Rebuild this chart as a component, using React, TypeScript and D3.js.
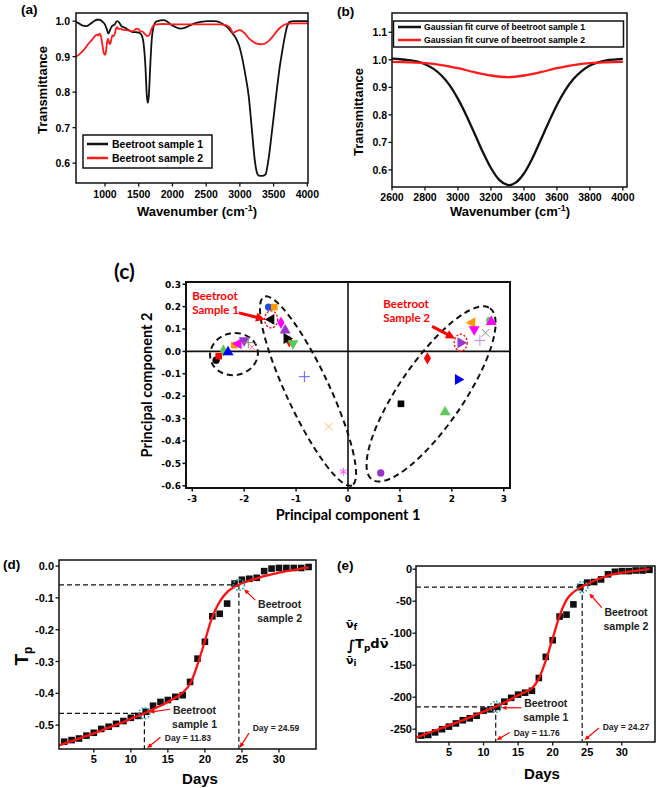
import React from 'react';
import * as d3 from 'd3';

type P = [number, number];

// ---------------- Panel (a): FTIR spectra ----------------
const ftirSample1: P[] = [
  [570, 0.998], [620, 0.993], [660, 0.988], [720, 0.986], [780, 0.992], [830, 0.999], [880, 1.004], [920, 1.004],
  [960, 0.999], [1000, 0.99], [1030, 0.975], [1050, 0.965], [1075, 0.975], [1100, 0.985], [1140, 0.99], [1180, 1.0],
  [1210, 0.996], [1250, 0.985], [1290, 0.982], [1340, 0.976], [1400, 0.97], [1450, 0.969], [1500, 0.968], [1540, 0.962],
  [1570, 0.94], [1600, 0.87], [1620, 0.79], [1635, 0.77], [1650, 0.79], [1670, 0.87], [1690, 0.94], [1720, 0.985],
  [1760, 0.999], [1820, 1.002], [1870, 1.003], [1920, 0.999], [1980, 0.99], [2050, 0.983], [2120, 0.979], [2180, 0.981],
  [2250, 0.987], [2330, 0.994], [2420, 0.998], [2520, 1.0], [2620, 1.0], [2700, 0.997], [2760, 0.99], [2820, 0.982],
  [2880, 0.968], [2940, 0.952], [2990, 0.93], [3030, 0.9], [3080, 0.85], [3130, 0.79], [3180, 0.69], [3220, 0.61],
  [3250, 0.575], [3280, 0.565], [3340, 0.564], [3380, 0.568], [3420, 0.605], [3470, 0.68], [3510, 0.745], [3550, 0.81],
  [3590, 0.87], [3630, 0.918], [3670, 0.96], [3700, 0.985], [3740, 0.998], [3800, 1.0], [3900, 1.0], [4010, 1.0],
];
const ftirSample2: P[] = [
  [570, 0.9], [610, 0.905], [650, 0.912], [690, 0.92], [730, 0.93], [770, 0.94], [810, 0.948], [850, 0.958],
  [880, 0.962], [900, 0.96], [920, 0.965], [940, 0.958], [960, 0.935], [980, 0.912], [1000, 0.905], [1015, 0.915],
  [1030, 0.94], [1045, 0.95], [1060, 0.94], [1075, 0.935], [1090, 0.945], [1110, 0.96], [1130, 0.958], [1150, 0.968],
  [1165, 0.98], [1180, 0.983], [1200, 0.978], [1230, 0.979], [1260, 0.976], [1300, 0.975], [1340, 0.974], [1380, 0.972],
  [1420, 0.972], [1460, 0.978], [1490, 0.978], [1520, 0.972], [1560, 0.97], [1600, 0.962], [1630, 0.958], [1660, 0.962],
  [1690, 0.978], [1720, 0.988], [1760, 0.991], [1850, 0.992], [2000, 0.991], [2200, 0.991], [2500, 0.991], [2700, 0.991],
  [2800, 0.988], [2860, 0.98], [2900, 0.966], [2930, 0.97], [2960, 0.973], [3000, 0.975], [3040, 0.971], [3080, 0.964],
  [3130, 0.952], [3180, 0.944], [3230, 0.938], [3300, 0.935], [3360, 0.936], [3420, 0.943], [3480, 0.955], [3540, 0.97],
  [3600, 0.982], [3660, 0.99], [3720, 0.993], [3800, 0.994], [4010, 0.994],
];
const ftirXTicks = [1000, 1500, 2000, 2500, 3000, 3500, 4000];
const ftirYTicks = [0.6, 0.7, 0.8, 0.9, 1.0];
const ftirLegend = ['Beetroot sample 1', 'Beetroot sample 2'];

// ---------------- Panel (b): Gaussian fits ----------------
const gaussFit1: P[] = [
  [2600, 1.004], [2650, 1.002], [2700, 0.999], [2750, 0.994], [2800, 0.984], [2850, 0.968], [2900, 0.943], [2950, 0.907],
  [3000, 0.858], [3050, 0.799], [3100, 0.733], [3150, 0.666], [3200, 0.607], [3250, 0.564], [3300, 0.546], [3310, 0.545],
  [3350, 0.554], [3400, 0.587], [3450, 0.641], [3500, 0.706], [3550, 0.773], [3600, 0.836], [3650, 0.889], [3700, 0.93],
  [3750, 0.959], [3800, 0.979], [3850, 0.991], [3900, 0.998], [3950, 1.001], [4000, 1.003],
];
const gaussFit2: P[] = [
  [2600, 0.9925], [2700, 0.991], [2800, 0.988], [2900, 0.981], [3000, 0.9695], [3100, 0.955], [3200, 0.943], [3300, 0.937],
  [3400, 0.943], [3500, 0.955], [3600, 0.9695], [3700, 0.981], [3800, 0.988], [3900, 0.991], [4000, 0.9925],
];
const gaussXTicks = [2600, 2800, 3000, 3200, 3400, 3600, 3800, 4000];
const gaussYTicks = [0.6, 0.7, 0.8, 0.9, 1.0, 1.1];
const gaussLegend = ['Gaussian fit curve of beetroot sample 1', 'Gaussian fit curve of beetroot sample 2'];

// ---------------- Panel (c): PCA scores ----------------
const pcaPC1 = [
  -2.54, -2.49, -2.40, -2.31, -2.19, -2.11, -2.0, -1.92, -1.85,
  -1.53, -1.42, -1.48, -1.29, -1.21, -1.13, -1.18, -1.06, -0.84, -0.37, -0.09,
  0.63, 1.02, 1.53, 1.87, 2.12, 2.17, 2.39, 2.43, 2.54, 2.65, 2.73, 2.76,
];
const pcaPC2 = [
  -0.039, -0.021, 0.004, -0.003, 0.028, 0.034, 0.049, 0.039, 0.019,
  0.198, 0.198, 0.143, 0.128, 0.094, 0.045, 0.058, 0.036, -0.113, -0.336, -0.537,
  -0.543, -0.234, -0.031, -0.271, -0.125, 0.039, 0.128, 0.098, 0.049, 0.083, 0.138, 0.132,
];
const pcaMarkers = [
  'circle', 'square', 'diamond', 'triUp', 'square', 'triLeft', 'triDown', 'plus', 'times',
  'circle', 'square', 'triLeft', 'diamond', 'triUp', 'diamond', 'triRight', 'triDown', 'plus', 'times', 'asterisk',
  'circle', 'square', 'diamond', 'triUp', 'triRight', 'triRight', 'triLeft', 'triDown', 'plus', 'times', 'circle', 'triUp',
];
const pcaColours = [
  '#000000', '#ff0000', '#5cc85c', '#0000ff', '#ff9900', '#ff00ff', '#9933cc', '#888888', '#ff8080',
  '#1f4fe0', '#ff9900', '#000000', '#ff00ff', '#9933cc', '#ff0000', '#000000', '#5cc85c', '#6060ff', '#ffbb66', '#ff44ff',
  '#9933cc', '#000000', '#ff0000', '#5cc85c', '#0000ff', '#9933cc', '#ff9900', '#ff00ff', '#bb88ff', '#888888', '#5cc85c', '#ff00ff',
];
const pcaXTicks = [-3, -2, -1, 0, 1, 2, 3];
const pcaYTicks = [0.3, 0.2, 0.1, 0.0, -0.1, -0.2, -0.3, -0.4, -0.5, -0.6];
// dashed group ellipses: centre in data units
const pcaGroupCentres: P[] = [[-2.196, -0.012], [-0.77, -0.177], [1.6, -0.19]];
const pcaHighlighted: P[] = [[-1.48, 0.143], [2.17, 0.039]];

// ---------------- Panel (d): Tp vs days ----------------
const days = [1, 2, 3, 4, 5, 6, 7, 8, 9, 10, 11, 12, 13, 14, 15, 16, 17, 18, 19, 20, 21, 22, 23, 24, 25, 26, 27, 28, 29, 30, 31, 32, 33, 34];
const tpValues = [
  -0.552, -0.547, -0.542, -0.533, -0.524, -0.512, -0.505, -0.496, -0.487, -0.477, -0.471, -0.458,
  -0.439, -0.427, -0.421, -0.411, -0.406, -0.364, -0.291, -0.238, -0.158, -0.15, -0.118, -0.055,
  -0.043, -0.04, -0.037, -0.016, -0.008, -0.006, -0.006, -0.006, -0.006, -0.003,
];
const tpFit: P[] = [
  [0.3, -0.564], [1, -0.558], [2, -0.55], [3, -0.542], [4, -0.534], [5, -0.526], [6, -0.517], [7, -0.508],
  [8, -0.499], [9, -0.49], [10, -0.48], [11, -0.471], [12, -0.461], [13, -0.45], [14, -0.439], [15, -0.427],
  [16, -0.414], [17, -0.398], [18, -0.37], [19, -0.31], [20, -0.235], [21, -0.16], [22, -0.112], [23, -0.082],
  [24, -0.065], [25, -0.054], [26, -0.046], [27, -0.039], [28, -0.032], [29, -0.026], [30, -0.021], [31, -0.016],
  [32, -0.012], [33, -0.008], [34, -0.004],
];
const tpMarks: P[] = [[11.83, -0.463], [24.59, -0.059]];
const tpXTicks = [5, 10, 15, 20, 25, 30];
const tpYTicks = [0, -0.1, -0.2, -0.3, -0.4, -0.5];

// ---------------- Panel (e): integrated Tp vs days ----------------
const intValues = [
  -260, -259, -255, -250, -246, -241, -236, -233, -229, -221, -219, -215,
  -207, -201, -196, -193, -190, -170, -137, -111, -74, -71, -55, -28,
  -21, -20, -16, -8, -4, -3, -3, -2, -2, -1,
];
const intFit: P[] = [
  [0.3, -263], [1, -260], [2, -256], [3, -252], [4, -248], [5, -244], [6, -240], [7, -236],
  [8, -231.5], [9, -227], [10, -222.5], [11, -218], [12, -213.5], [13, -208.5], [14, -203], [15, -197],
  [16, -192], [17, -186], [18, -171], [19, -143], [20, -108], [21, -73], [22, -48], [23, -36],
  [24, -29], [25, -23], [26, -18], [27, -14], [28, -10], [29, -7.5], [30, -5.5], [31, -4],
  [32, -2.5], [33, -1.2], [34, 0],
];
const intMarks: P[] = [[11.76, -215], [24.27, -28]];
const intXTicks = [5, 10, 15, 20, 25, 30];
const intYTicks = [0, -50, -100, -150, -200, -250];

const ARIAL = "'Liberation Sans', Arial, Helvetica, sans-serif";
const CALIBRI = "Lato, 'Open Sans', 'Noto Sans', sans-serif";
const VERDANA = "'DejaVu Sans', Verdana, sans-serif";

function Arrow({ x1, y1, x2, y2, w = 1.2, head = 5, hw = 4.5, color = '#ff0000' }:
  { x1: number; y1: number; x2: number; y2: number; w?: number; head?: number; hw?: number; color?: string }) {
  const dx = x2 - x1, dy = y2 - y1;
  const L = Math.hypot(dx, dy);
  const ux = dx / L, uy = dy / L;
  const bx = x2 - ux * head, by = y2 - uy * head;
  const px = -uy, py = ux;
  return (
    <g>
      <line x1={x1} y1={y1} x2={bx + ux} y2={by + uy} stroke={color} strokeWidth={w} />
      <polygon
        points={`${x2},${y2} ${bx + (px * hw) / 2},${by + (py * hw) / 2} ${bx - (px * hw) / 2},${by - (py * hw) / 2}`}
        fill={color}
      />
    </g>
  );
}

function PanelA() {
  const x = d3.scaleLinear().domain([570, 4010]).range([76, 308]);
  const y = d3.scaleLinear().domain([0.544, 1.023]).range([183, 13]);
  const line = d3.line<P>().x((d) => x(d[0])).y((d) => y(d[1])).curve(d3.curveMonotoneX);
  const colors = ['#111111', '#ff1a1a'];
  return (
    <g fontFamily={ARIAL} fontWeight="bold">
      <clipPath id="clipA"><rect x={76} y={13} width={232} height={170} /></clipPath>
      <text x={21} y={14} fontSize={13.5}>(a)</text>
      <g clipPath="url(#clipA)">
        <path d={line(ftirSample1) || ''} fill="none" stroke={colors[0]} strokeWidth={1.8} />
        <path d={line(ftirSample2) || ''} fill="none" stroke={colors[1]} strokeWidth={1.8} />
      </g>
      <rect x={76} y={13} width={232} height={170} fill="none" stroke="#111" strokeWidth={1.5} />
      {ftirXTicks.map((t) => (
        <g key={t}>
          <line x1={x(t)} x2={x(t)} y1={183} y2={186.5} stroke="#111" strokeWidth={1.3} />
          <text x={x(t)} y={198} fontSize={10.5} textAnchor="middle">{t}</text>
        </g>
      ))}
      {ftirYTicks.map((t) => (
        <g key={t}>
          <line x1={72.5} x2={76} y1={y(t)} y2={y(t)} stroke="#111" strokeWidth={1.3} />
          <text x={70} y={y(t) + 4} fontSize={10.5} textAnchor="end">{t.toFixed(1)}</text>
        </g>
      ))}
      <text transform="translate(47,90) rotate(-90)" fontSize={13} textAnchor="middle">Transmittance</text>
      <text x={197} y={216} fontSize={13} textAnchor="middle">
        Wavenumber (cm<tspan dy={-5} fontSize={9}>-1</tspan><tspan dy={5}>)</tspan>
      </text>
      <rect x={83} y={135} width={129} height={33} fill="#fff" stroke="#111" strokeWidth={1.5} />
      {ftirLegend.map((s, i) => (
        <g key={s}>
          <line x1={87} x2={108} y1={144 + i * 14} y2={144 + i * 14} stroke={colors[i]} strokeWidth={2.5} />
          <text x={112} y={148 + i * 14} fontSize={10.5}>{s}</text>
        </g>
      ))}
    </g>
  );
}

function PanelB() {
  const x = d3.scaleLinear().domain([2600, 4025]).range([392, 627]);
  const y = d3.scaleLinear().domain([0.538, 1.17]).range([187, 13]);
  const line = d3.line<P>().x((d) => x(d[0])).y((d) => y(d[1])).curve(d3.curveMonotoneX);
  const colors = ['#111111', '#ff1a1a'];
  return (
    <g fontFamily={ARIAL} fontWeight="bold">
      <text x={337} y={16} fontSize={13.5}>(b)</text>
      <path d={line(gaussFit1) || ''} fill="none" stroke={colors[0]} strokeWidth={2.3} />
      <path d={line(gaussFit2) || ''} fill="none" stroke={colors[1]} strokeWidth={2.3} />
      <rect x={392} y={13} width={235} height={174} fill="none" stroke="#111" strokeWidth={1.5} />
      {gaussXTicks.map((t) => (
        <g key={t}>
          <line x1={x(t)} x2={x(t)} y1={187} y2={190.5} stroke="#111" strokeWidth={1.3} />
          <text x={x(t)} y={201} fontSize={10.5} textAnchor="middle">{t}</text>
        </g>
      ))}
      {gaussYTicks.map((t) => (
        <g key={t}>
          <line x1={388.5} x2={392} y1={y(t)} y2={y(t)} stroke="#111" strokeWidth={1.3} />
          <text x={387} y={y(t) + 4} fontSize={10.5} textAnchor="end">{t.toFixed(1)}</text>
        </g>
      ))}
      <text transform="translate(363,112) rotate(-90)" fontSize={13} textAnchor="middle">Transmittance</text>
      <text x={510} y={216} fontSize={13} textAnchor="middle">
        Wavenumber (cm<tspan dy={-5} fontSize={9}>-1</tspan><tspan dy={5}>)</tspan>
      </text>
      <rect x={393.5} y={21} width={230} height={26} fill="#fff" stroke="#111" strokeWidth={1.5} />
      {gaussLegend.map((s, i) => (
        <g key={s}>
          <line x1={398} x2={421} y1={27 + i * 13} y2={27 + i * 13} stroke={colors[i]} strokeWidth={2.5} />
          <text x={424} y={30 + i * 13} fontSize={8.6}>{s}</text>
        </g>
      ))}
    </g>
  );
}

const symbolTypes: Record<string, d3.SymbolType> = {
  circle: d3.symbolCircle,
  square: d3.symbolSquare,
  diamond: d3.symbolDiamond,
  triUp: d3.symbolTriangle,
  triDown: d3.symbolTriangle,
  triLeft: d3.symbolTriangle,
  triRight: d3.symbolTriangle,
  plus: (d3 as any).symbolPlus || d3.symbolCross,
  times: (d3 as any).symbolTimes || d3.symbolCross,
  asterisk: (d3 as any).symbolAsterisk || d3.symbolCross,
};
const symbolRot: Record<string, number> = { triDown: 180, triLeft: -90, triRight: 90 };
const strokedSymbols = new Set(['plus', 'times', 'asterisk']);

function PanelC() {
  const x = d3.scaleLinear().domain([-3.12, 3.12]).range([186, 510]);
  const y = d3.scaleLinear().domain([-0.61, 0.31]).range([488, 282]);
  const ellipseShape = [
    { rx: 24, ry: 21, a: -10 },
    { rx: 104, ry: 21.5, a: 65 },
    { rx: 104, ry: 32, a: -55.5 },
  ];
  return (
    <g>
      <text x={114} y={279} fontSize={21} fontWeight="bold" fontFamily={CALIBRI}>(c)</text>
      <rect x={186} y={282} width={324} height={206} fill="none" stroke="#111" strokeWidth={2} />
      <line x1={x(0)} x2={x(0)} y1={282} y2={488} stroke="#111" strokeWidth={1.6} />
      <line x1={186} x2={510} y1={y(0)} y2={y(0)} stroke="#111" strokeWidth={1.6} />
      {pcaXTicks.map((t) => (
        <g key={t}>
          <line x1={x(t)} x2={x(t)} y1={488} y2={491.5} stroke="#111" strokeWidth={1.5} />
          <text x={x(t)} y={502} fontSize={9} fontWeight="bold" fontFamily={VERDANA} textAnchor="middle">{t}</text>
        </g>
      ))}
      {pcaYTicks.map((t) => (
        <g key={t}>
          <line x1={182.5} x2={186} y1={y(t)} y2={y(t)} stroke="#111" strokeWidth={1.5} />
          <text x={181} y={y(t) + 3.3} fontSize={9} fontWeight="bold" fontFamily={VERDANA} textAnchor="end">{t.toFixed(1)}</text>
        </g>
      ))}
      <text transform="translate(152,385) rotate(-90)" fontSize={14.5} fontWeight="bold" fontFamily={CALIBRI} textAnchor="middle">Principal component 2</text>
      <text x={348} y={520} fontSize={14.5} fontWeight="bold" fontFamily={CALIBRI} textAnchor="middle">Principal component 1</text>
      {pcaGroupCentres.map((c, i) => (
        <ellipse key={i} cx={x(c[0])} cy={y(c[1])} rx={ellipseShape[i].rx} ry={ellipseShape[i].ry}
          transform={`rotate(${ellipseShape[i].a} ${x(c[0])} ${y(c[1])})`}
          fill="none" stroke="#111" strokeWidth={2} strokeDasharray="6,4" />
      ))}
      {pcaPC1.map((v, i) => {
        const k = pcaMarkers[i];
        const stroked = strokedSymbols.has(k);
        const size = stroked ? 42 : k.startsWith('tri') ? 52 : k === 'circle' ? 42 : 44;
        const p = d3.symbol().type(symbolTypes[k]).size(size)() || '';
        return (
          <path key={i} d={p}
            transform={`translate(${x(v)},${y(pcaPC2[i])}) rotate(${symbolRot[k] || 0})`}
            fill={stroked ? 'none' : pcaColours[i]} stroke={stroked ? pcaColours[i] : 'none'} strokeWidth={1} />
        );
      })}
      {pcaHighlighted.map((c, i) => (
        <ellipse key={i} cx={x(c[0])} cy={y(c[1])} rx={6.5} ry={8.5} fill="none" stroke="#ff0000" strokeWidth={1.3} strokeDasharray="2.2,1.6" />
      ))}
      <g fontFamily={CALIBRI} fontWeight="bold" fontSize={11.5} fill="#ff0000">
        <text x={x(-3.0)} y={y(0.23)}>Beetroot</text>
        <text x={x(-3.0)} y={y(0.168)}>Sample 1</text>
        <text x={x(0.68)} y={y(0.195)}>Beetroot</text>
        <text x={x(0.68)} y={y(0.133)}>Sample 2</text>
      </g>
      <Arrow x1={x(-2.1)} y1={y(0.172)} x2={x(-1.6)} y2={y(0.143)} w={3} head={9} hw={9} />
      <Arrow x1={x(1.62)} y1={y(0.112)} x2={x(2.06)} y2={y(0.058)} w={3} head={9} hw={9} />
    </g>
  );
}

function Growth({ id, label, box, xDom, yDom, values, fit, marks, xTicks, yTicks, yFmt, anno, yLabelNode, tickLabelX, xLabelY, daysPos }:
  any) {
  const [L, R, T, B] = box;
  const x = d3.scaleLinear().domain(xDom).range([L, R]);
  const y = d3.scaleLinear().domain(yDom).range([B, T]);
  const line = d3.line<P>().x((d) => x(d[0])).y((d) => y(d[1])).curve(d3.curveMonotoneX);
  return (
    <g fontFamily={ARIAL} fontWeight="bold">
      <clipPath id={`clip${id}`}><rect x={L} y={T} width={R - L} height={B - T} /></clipPath>
      <text x={label[1]} y={label[2]} fontSize={13.5}>{label[0]}</text>
      {marks.map((m: P, i: number) => (
        <g key={i} stroke="#111" strokeWidth={1.2} strokeDasharray="5,3" fill="none">
          <line x1={L} x2={x(m[0])} y1={y(m[1])} y2={y(m[1])} />
          <line x1={x(m[0])} x2={x(m[0])} y1={y(m[1])} y2={B} />
        </g>
      ))}
      <g clipPath={`url(#clip${id})`}>
        {values.map((v: number, i: number) => (
          <rect key={i} x={x(days[i]) - 3.3} y={y(v) - 3.3} width={6.6} height={6.6} fill="#111" />
        ))}
        <path d={line(fit) || ''} fill="none" stroke="#ff1010" strokeWidth={2.3} />
      </g>
      {marks.map((m: P, i: number) => (
        <circle key={i} cx={x(m[0])} cy={y(m[1])} r={5.5} fill="none" stroke="#2aa6a6" strokeWidth={1.6} strokeDasharray="1.6,1.6" />
      ))}
      <rect x={L} y={T} width={R - L} height={B - T} fill="none" stroke="#111" strokeWidth={1.5} />
      {xTicks.map((t: number) => (
        <g key={t}>
          <line x1={x(t)} x2={x(t)} y1={B} y2={B + 3.5} stroke="#111" strokeWidth={1.3} />
          <text x={x(t)} y={B + 13.5} fontSize={11} textAnchor="middle">{t}</text>
        </g>
      ))}
      {yTicks.map((t: number) => (
        <g key={t}>
          <line x1={L - 3.5} x2={L} y1={y(t)} y2={y(t)} stroke="#111" strokeWidth={1.3} />
          <text x={tickLabelX} y={y(t) + 4} fontSize={11} textAnchor="end">{yFmt(t)}</text>
        </g>
      ))}
      <text x={daysPos} y={xLabelY} fontSize={15} textAnchor="middle">Days</text>
      {yLabelNode}
      <g fill="#222">
        <text x={x(anno.s2[0])} y={y(anno.s2[1])} fontSize={10.5} textAnchor="middle">Beetroot</text>
        <text x={x(anno.s2[0])} y={y(anno.s2[1]) + 14} fontSize={10.5} textAnchor="middle">sample 2</text>
        <text x={x(anno.s1[0])} y={y(anno.s1[1])} fontSize={10.5} textAnchor="middle">Beetroot</text>
        <text x={x(anno.s1[0])} y={y(anno.s1[1]) + 14} fontSize={10.5} textAnchor="middle">sample 1</text>
        <text x={x(anno.d1[0])} y={y(anno.d1[1])} fontSize={8.5} textAnchor="middle">{anno.d1[2]}</text>
        <text x={x(anno.d2[0])} y={y(anno.d2[1])} fontSize={8.5} textAnchor="middle">{anno.d2[2]}</text>
      </g>
      {anno.arrows.map((a: number[], i: number) => (
        <Arrow key={i} x1={x(a[0])} y1={y(a[1])} x2={x(a[2])} y2={y(a[3])} w={1.2} head={5} hw={4.5} />
      ))}
    </g>
  );
}

export default function App() {
  return (
    <svg width={662} height={788} style={{ position: 'absolute', left: 0, top: 0, background: '#fff' }}>
      <PanelA />
      <PanelB />
      <PanelC />
      <Growth
        id="D" label={['(d)', 3, 569]} box={[59, 316, 560, 749]} xDom={[0.3, 35]} yDom={[-0.575, 0.019]}
        values={tpValues} fit={tpFit} marks={tpMarks} xTicks={tpXTicks} yTicks={tpYTicks}
        yFmt={(t: number) => (t === 0 ? '0.0' : t.toFixed(1))} tickLabelX={54} xLabelY={784} daysPos={200}
        anno={{
          s2: [30.1, -0.132], s1: [18.6, -0.465],
          d1: [17.7, -0.55, 'Day = 11.83'], d2: [29.6, -0.519, 'Day = 24.59'],
          arrows: [[26.8, -0.107, 25.3, -0.073], [15.3, -0.45, 12.5, -0.459], [14.0, -0.538, 12.2, -0.572], [25.95, -0.525, 24.7, -0.571]],
        }}
        yLabelNode={
          <text transform="translate(28,656) rotate(-90)" fontSize={19} textAnchor="middle">
            T<tspan fontSize={12} dy={4}>p</tspan>
          </text>
        }
      />
      <Growth
        id="E" label={['(e)', 337, 570]} box={[416, 655, 566, 742]} xDom={[0.23, 34.8]} yDom={[-270, 5]}
        values={intValues} fit={intFit} marks={intMarks} xTicks={intXTicks} yTicks={intYTicks}
        yFmt={(t: number) => String(t)} tickLabelX={412} xLabelY={779} daysPos={542}
        anno={{
          s2: [30.6, -73], s1: [19.0, -215],
          d1: [17.7, -260, 'Day = 11.76'], d2: [30.6, -252, 'Day = 24.27'],
          arrows: [[27.1, -60, 25.3, -38], [15.5, -216.5, 12.6, -216.5], [13.8, -255, 11.9, -267], [26.7, -248, 24.6, -267]],
        }}
        yLabelNode={
          <g fontFamily="'DejaVu Sans', sans-serif" fontWeight="bold">
            <text x={346} y={628} fontSize={11}>{'\u03bd\u0304'}<tspan fontSize={8.5} dy={2}>f</tspan></text>
            <text x={347} y={650} fontSize={14}>{'\u222b'}</text>
            <text x={355} y={648} fontSize={13}>T<tspan fontSize={9} dy={3}>p</tspan><tspan dy={-3}>d{'\u03bd\u0304'}</tspan></text>
            <text x={346} y={664} fontSize={11}>{'\u03bd\u0304'}<tspan fontSize={8.5} dy={2}>i</tspan></text>
          </g>
        }
      />
    </svg>
  );
}
